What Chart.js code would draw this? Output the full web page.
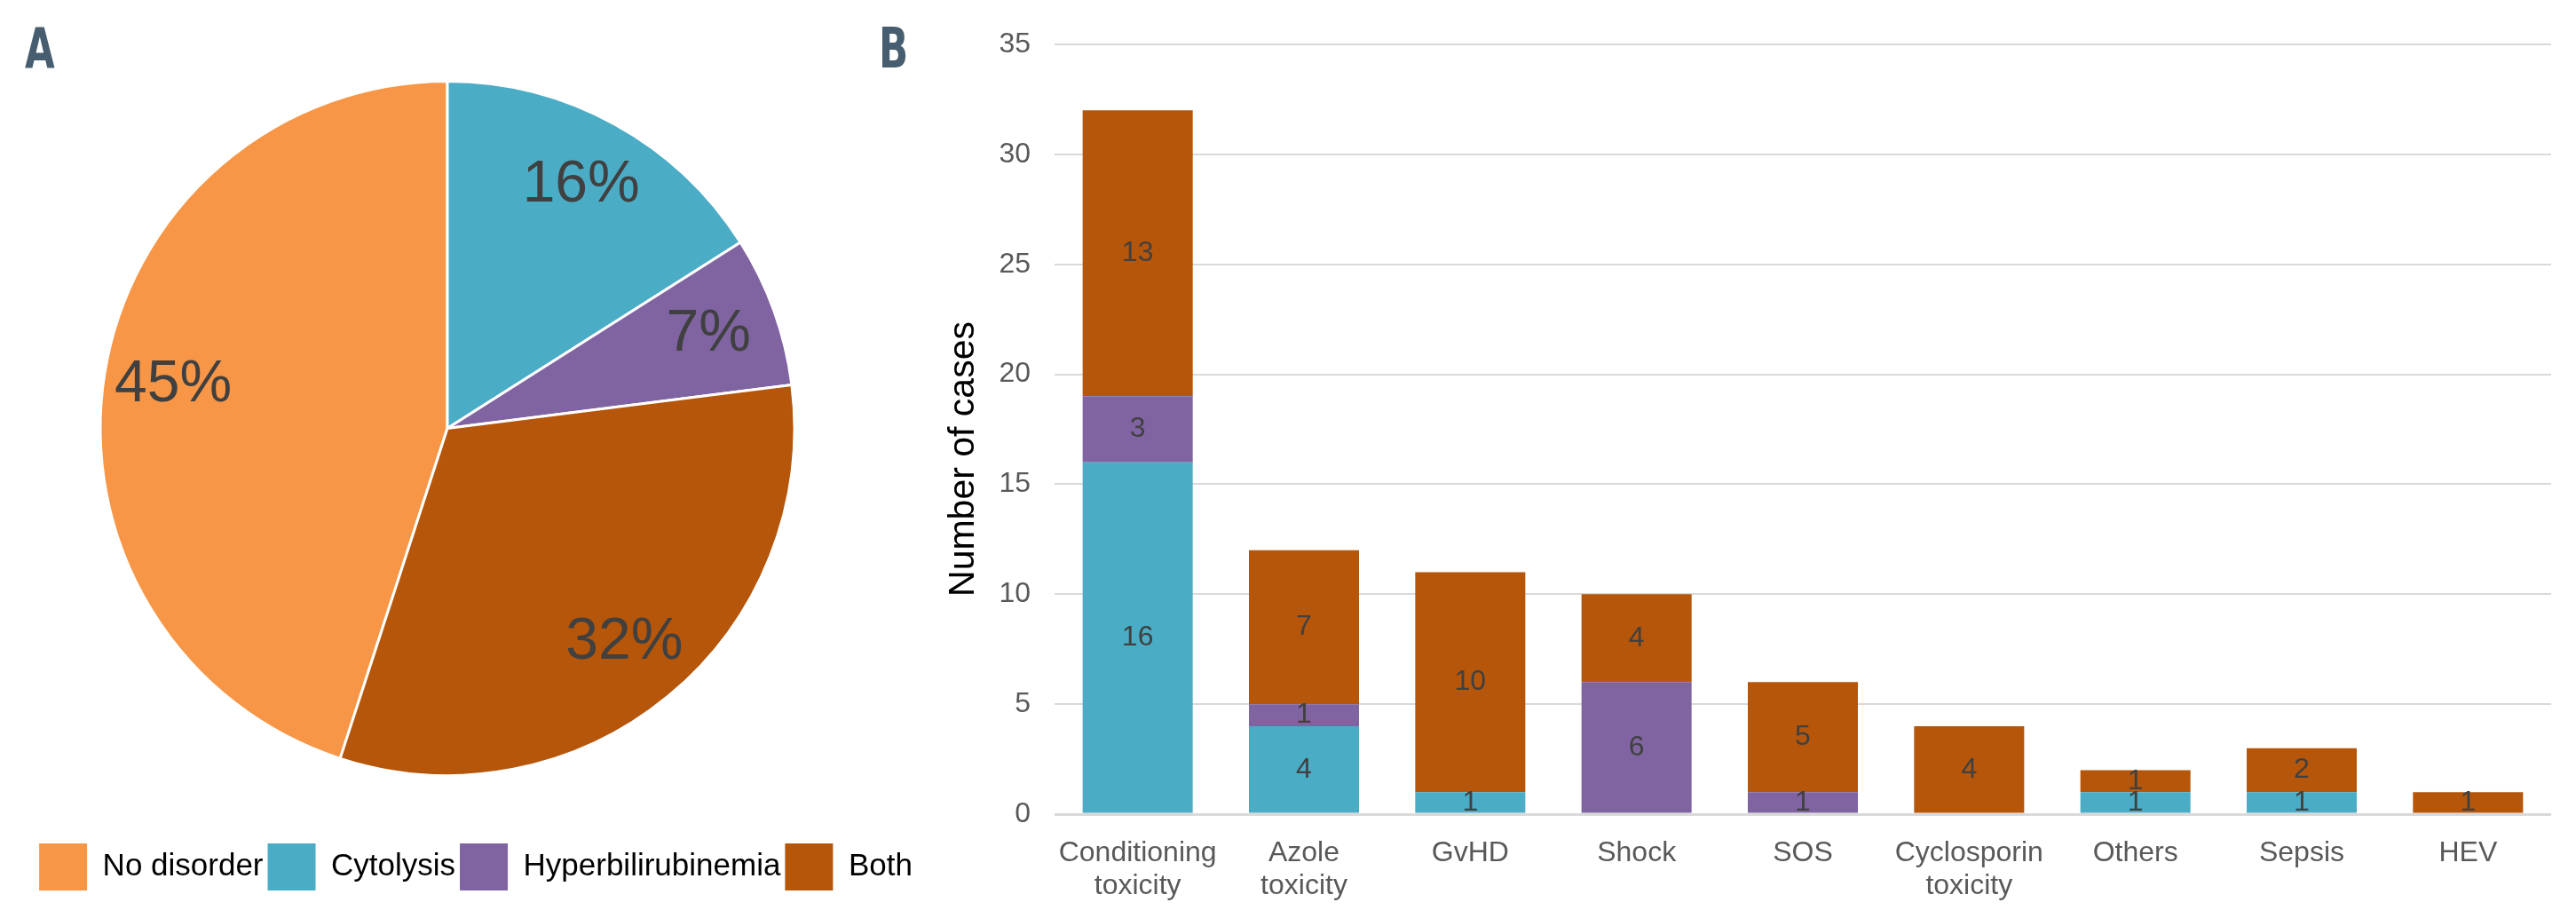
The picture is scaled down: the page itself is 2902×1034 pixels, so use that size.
<!DOCTYPE html>
<html>
<head>
<meta charset="utf-8">
<script src="https://cdn.jsdelivr.net/npm/chart.js@4"></script>
<style>
  html, body { margin: 0; padding: 0; background: #fff; }
  body { width: 2902px; height: 1034px; position: relative; overflow: hidden; }
  canvas { position: absolute; top: 0; }
  #pieChart { left: 0; width: 1066px; height: 1034px; }
  #barChart { left: 1000px; width: 1902px; height: 1034px; }
  .panel {
    position: absolute; top: 24px; font: bold 62px 'DejaVu Sans', sans-serif;
    font-stretch: condensed; color: #465e70; line-height: 62px;
    transform: scaleX(0.78); transform-origin: left top;
  }
</style>
</head>
<body>
<canvas id="pieChart" width="1066" height="1034"></canvas>
<canvas id="barChart" width="1902" height="1034"></canvas>
<div class="panel" style="left:28px">A</div>
<div class="panel" style="left:990px">B</div>
<script>
// panel A: share of patients
const pieLabels = ['No disorder', 'Cytolysis', 'Hyperbilirubinemia', 'Both'];
const piePercents = [45, 16, 7, 32];
const pieColors = ['#f79646', '#4bacc6', '#8064a2', '#b5560a'];

// panel B: cases per cause
const causes = [['Conditioning', 'toxicity'], ['Azole', 'toxicity'], 'GvHD', 'Shock', 'SOS',
  ['Cyclosporin', 'toxicity'], 'Others', 'Sepsis', 'HEV'];
const cytolysis = [16, 4, 1, 0, 0, 0, 1, 1, 0];
const hyperbili = [3, 1, 0, 6, 1, 0, 0, 0, 0];
const both = [13, 7, 10, 4, 5, 4, 1, 2, 1];
const yMax = 35;
const yStep = 5;

const FONT = "'Liberation Sans', Arial, sans-serif";

// percent labels inside the slices
const pieLabelPlugin = {
  id: 'pieLabels',
  afterLayout(chart) {
    // legend sits a bit right of the pie centre in the original
    chart.legend.left += 32;
    chart.legend.right += 32;
  },
  afterDatasetsDraw(chart) {
    const ctx = chart.ctx;
    ctx.save();
    ctx.font = '66px ' + FONT;
    ctx.fillStyle = '#404040';
    ctx.textAlign = 'center';
    ctx.textBaseline = 'middle';
    chart.getDatasetMeta(0).data.forEach((arc, i) => {
      const p = arc.getProps(['x', 'y', 'startAngle', 'endAngle', 'outerRadius'], true);
      const mid = (p.startAngle + p.endAngle) / 2;
      const r = p.outerRadius * 0.8;
      ctx.fillText(piePercents[i] + '%', p.x + Math.cos(mid) * r, p.y + Math.sin(mid) * r);
    });
    ctx.restore();
  }
};

new Chart(document.getElementById('pieChart'), {
  type: 'pie',
  data: {
    labels: pieLabels,
    datasets: [{
      data: piePercents,
      backgroundColor: pieColors,
      borderColor: '#ffffff',
      borderWidth: 3
    }]
  },
  options: {
    responsive: false,
    devicePixelRatio: 1,
    animation: false,
    radius: 391,
    rotation: -162,
    layout: { padding: { top: 20, right: 58, bottom: 21, left: 0 } },
    plugins: {
      tooltip: { enabled: false },
      legend: {
        position: 'bottom',
        labels: {
          font: { family: FONT, size: 35 },
          color: '#000000',
          boxWidth: 54,
          boxHeight: 53,
          padding: 5,
          generateLabels(chart) {
            return Chart.overrides.pie.plugins.legend.labels.generateLabels(chart)
              .map(item => Object.assign(item, { lineWidth: 0 }));
          }
        }
      }
    }
  },
  plugins: [pieLabelPlugin]
});

// numbers in the middle of each stacked segment + rotated y title
const barLabelPlugin = {
  id: 'barLabels',
  afterDatasetsDraw(chart) {
    const ctx = chart.ctx;
    ctx.save();
    ctx.font = '32px ' + FONT;
    ctx.fillStyle = '#404040';
    ctx.textAlign = 'center';
    ctx.textBaseline = 'middle';
    chart.data.datasets.forEach((ds, di) => {
      chart.getDatasetMeta(di).data.forEach((bar, i) => {
        const v = ds.data[i];
        if (!v) return;
        const p = bar.getProps(['x', 'y', 'base'], true);
        ctx.fillText(String(v), p.x, (p.y + p.base) / 2);
      });
    });
    ctx.translate(86, 517);
    ctx.rotate(-Math.PI / 2);
    ctx.font = '41px ' + FONT;
    ctx.fillStyle = '#000000';
    ctx.fillText('Number of cases', 0, 0);
    ctx.restore();
  }
};

new Chart(document.getElementById('barChart'), {
  type: 'bar',
  data: {
    labels: causes,
    datasets: [
      { label: 'Cytolysis', data: cytolysis, backgroundColor: pieColors[1] },
      { label: 'Hyperbilirubinemia', data: hyperbili, backgroundColor: pieColors[2] },
      { label: 'Both', data: both, backgroundColor: pieColors[3] }
    ]
  },
  options: {
    responsive: false,
    devicePixelRatio: 1,
    animation: false,
    layout: { padding: { top: 50, right: 28, bottom: 0, left: 0 } },
    datasets: { bar: { categoryPercentage: 1, barPercentage: 0.662, borderWidth: 0 } },
    plugins: { legend: { display: false }, tooltip: { enabled: false } },
    scales: {
      x: {
        stacked: true,
        grid: { display: false },
        border: { display: false },
        ticks: {
          font: { family: FONT, size: 32, lineHeight: 1.15 },
          color: '#595959',
          padding: 18,
          maxRotation: 0,
          autoSkip: false
        },
        afterFit(scale) { scale.height = 117; }
      },
      y: {
        stacked: true,
        min: 0,
        max: yMax,
        grid: {
          color: '#d9d9d9',
          lineWidth: c => (c.tick && c.tick.value === 0 ? 3 : 2),
          drawTicks: false
        },
        border: { display: false },
        ticks: {
          stepSize: yStep,
          font: { family: FONT, size: 32 },
          color: '#595959',
          padding: 27
        },
        afterFit(scale) { scale.width = 188; }
      }
    }
  },
  plugins: [barLabelPlugin]
});
</script>
</body>
</html>
